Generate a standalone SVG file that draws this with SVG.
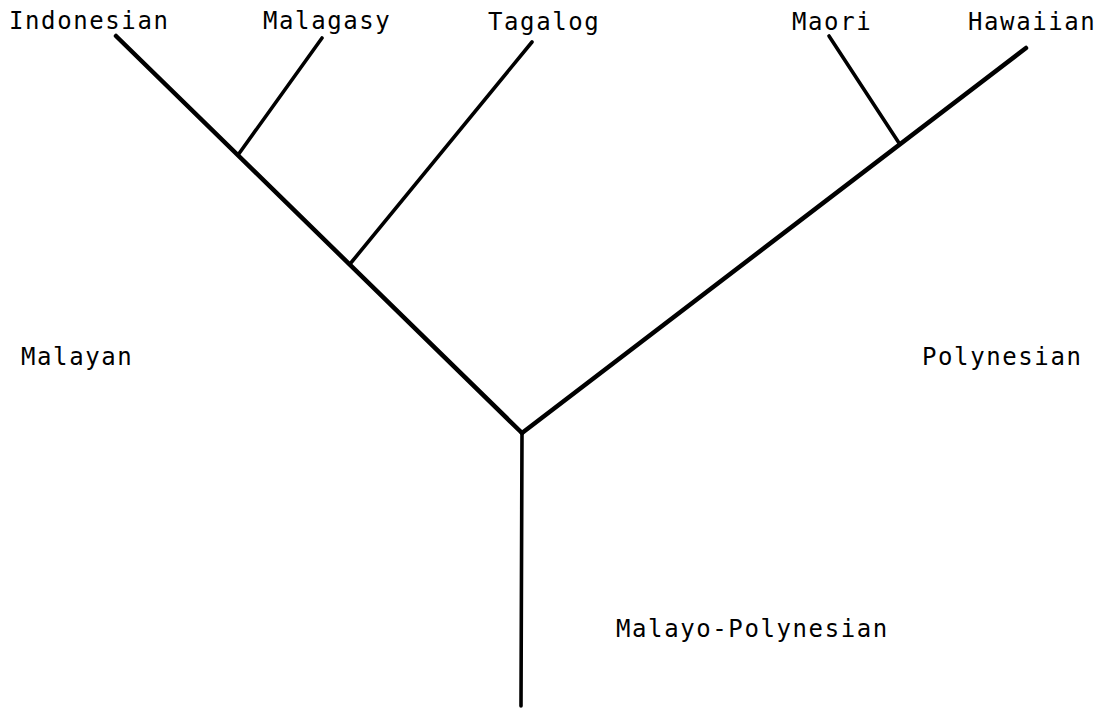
<svg xmlns="http://www.w3.org/2000/svg" width="1101" height="708" viewBox="0 0 1101 708">
<style>
text{font-family:"DejaVu Sans Mono","Liberation Mono",monospace;font-size:24px;letter-spacing:1.6px;fill:#000}
.br{stroke:#000;stroke-width:4.5;stroke-linecap:round;fill:none}
.thin{stroke-width:3.6}
</style>
<rect width="1101" height="708" fill="#fff"/>
<g id="connectors">
<line class="br" x1="522" y1="433" x2="116" y2="36"/>
<line class="br thin" x1="238" y1="155" x2="322" y2="38"/>
<line class="br thin" x1="350" y1="264" x2="532" y2="42"/>
<line class="br" x1="522" y1="433" x2="1026" y2="48"/>
<line class="br thin" x1="899" y1="143" x2="829" y2="36"/>
<line class="br thin" x1="522" y1="433" x2="521" y2="706"/>
</g>
<g id="n-indonesian"><text x="9" y="29">Indonesian</text></g>
<g id="n-malagasy"><text x="263" y="29">Malagasy</text></g>
<g id="n-tagalog"><text x="488" y="30">Tagalog</text></g>
<g id="n-maori"><text x="792" y="30">Maori</text></g>
<g id="n-hawaiian"><text x="968" y="30">Hawaiian</text></g>
<g id="n-malayan"><text x="21" y="365">Malayan</text></g>
<g id="n-polynesian"><text x="922" y="365">Polynesian</text></g>
<g id="n-malayo-polynesian"><text x="616" y="637">Malayo-Polynesian</text></g>
</svg>
